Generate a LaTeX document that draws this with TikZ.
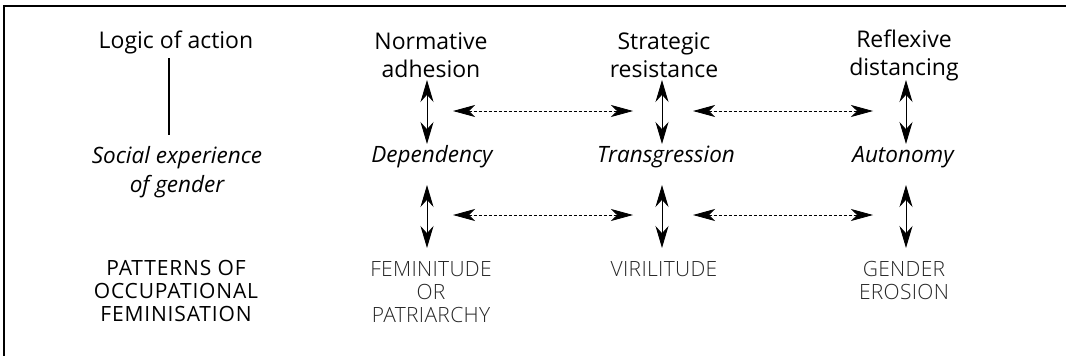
\documentclass[tikz,border=0pt]{standalone}
\usepackage{fontspec}
\setmainfont{Open Sans}
\newfontfamily\capsfont[LetterSpace=4]{Open Sans}
\newfontfamily\thinfont[LetterSpace=1.5]{Open Sans Light}
\usetikzlibrary{arrows.meta}

\tikzset{
	head/.style={font=\fontsize{23}{28}\selectfont, align=center, inner sep=0pt},
	expe/.style={font=\fontsize{22.5}{29}\selectfont\itshape, align=center, inner sep=0pt},
	patt/.style={font=\fontsize{21}{23}\selectfont\capsfont, align=center, inner sep=0pt},
	light/.style={font=\fontsize{21}{23}\selectfont\thinfont, align=center, inner sep=0pt, text=black!85},
	updown/.style={line width=0.9pt, {Stealth[length=22pt, width=13pt]}-{Stealth[length=22pt, width=13pt]}},
	across/.style={line width=0.8pt, dash pattern=on 3pt off 2pt, {Stealth[length=22pt, width=12pt, inset=6pt]}-{Stealth[length=22pt, width=12pt, inset=6pt]}}
}

\begin{document}
\begin{tikzpicture}[x=1pt, y=-1pt]
	\useasboundingbox (0,0) rectangle (1066,356);
	% frame, top and left only
	\draw[line width=1.2pt] (4,356) -- (4,6) -- (1066,6);

	% left column
	\node[head] (logic) at (176,42) {Logic of action};
	\node[expe] (social) at (177,172) {Social experience\\of gender};
	\node[patt] (pof) at (176,291) {PATTERNS OF\\OCCUPATIONAL\\FEMINISATION};
	\coordinate (lt) at (169,58);
	\coordinate (lb) at (169,135);
	\draw[line width=1.4pt] (lt) -- (lb);

	% logics of action
	\node[head] (norm) at (431,55) {Normative\\adhesion};
	\node[head] (strat) at (664,55) {Strategic\\resistance};
	\node[head] (refl) at (904,55) {Reflexive\\distancing};

	% social experience
	\node[expe] (dep) at (432,157) {Dependency};
	\node[expe] (trans) at (666,157) {Transgression};
	\node[expe] (auto) at (903,157) {Autonomy};

	% patterns
	\node[light, anchor=north] (femi) at (431,261) {FEMINITUDE\\OR\\PATRIARCHY};
	\node[light, anchor=north] (viri) at (664,261) {VIRILITUDE};
	\node[light, anchor=north] (eros) at (904,261) {GENDER\\EROSION};

	% up and down
	\coordinate (n1) at (427,80);  \coordinate (d1) at (427,144);
	\coordinate (n2) at (662,80);  \coordinate (d2) at (662,144);
	\coordinate (n3) at (906,80);  \coordinate (d3) at (906,144);
	\coordinate (u1) at (427,185); \coordinate (p1) at (427,248);
	\coordinate (u2) at (662,185); \coordinate (p2) at (662,248);
	\coordinate (u3) at (906,185); \coordinate (p3) at (906,248);
	\draw[updown] (n1) -- (d1);
	\draw[updown] (n2) -- (d2);
	\draw[updown] (n3) -- (d3);
	\draw[updown] (u1) -- (p1);
	\draw[updown] (u2) -- (p2);
	\draw[updown] (u3) -- (p3);

	% between the columns
	\coordinate (ha) at (453,111); \coordinate (hb) at (633,111);
	\coordinate (hc) at (693,111); \coordinate (hd) at (873,111);
	\coordinate (la) at (453,215); \coordinate (lb2) at (633,215);
	\coordinate (lc) at (693,215); \coordinate (ld) at (873,215);
	\draw[across] (ha) -- (hb);
	\draw[across] (hc) -- (hd);
	\draw[across] (la) -- (lb2);
	\draw[across] (lc) -- (ld);
\end{tikzpicture}
\end{document}
